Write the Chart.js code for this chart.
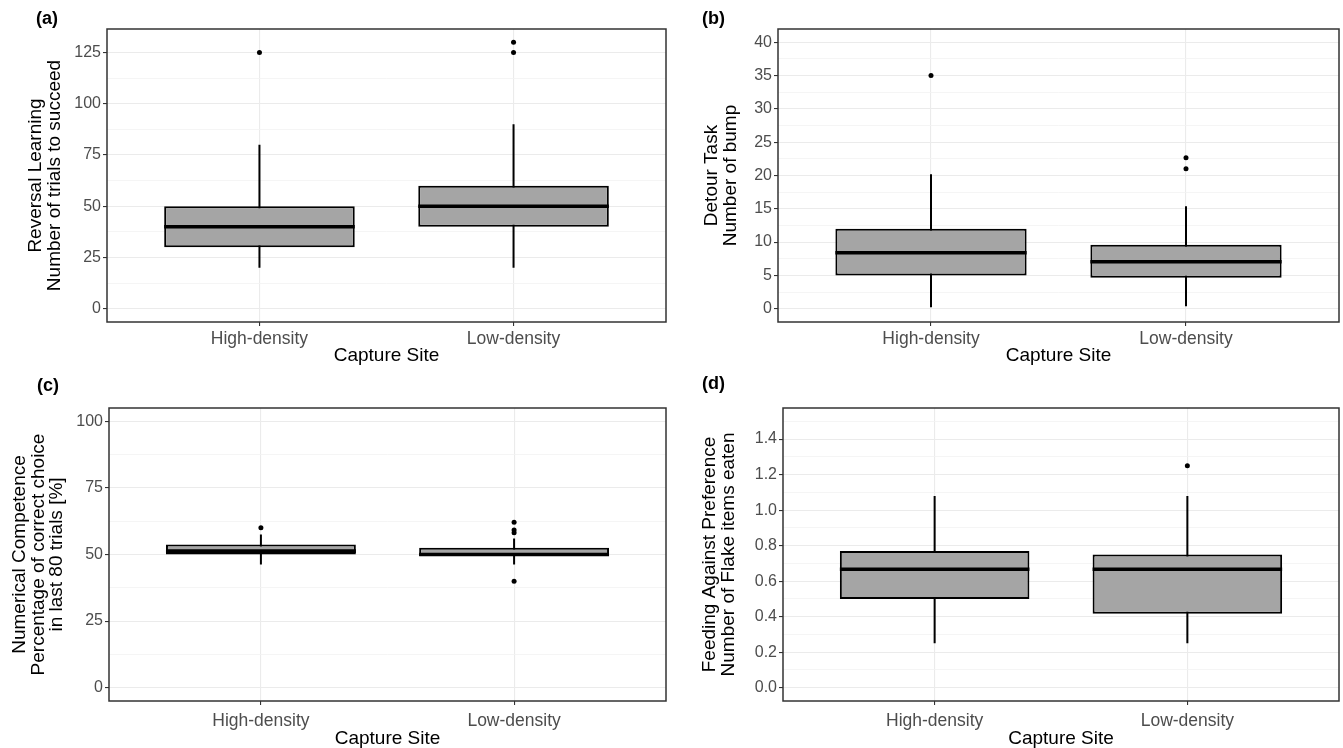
<!DOCTYPE html>
<html>
<head>
<meta charset="utf-8">
<title>Capture site box plots</title>
<script src="https://cdn.jsdelivr.net/npm/chart.js@4.4.1/dist/chart.umd.min.js"></script>
<style>
  html, body { margin: 0; padding: 0; background: #fff; }
  body { width: 1343px; height: 748px; position: relative; overflow: hidden; font-family: "Liberation Sans", Arial, sans-serif; }
  .panel { position: absolute; }
  .tag { position: absolute; font-weight: bold; font-size: 18px; color: #000; }
</style>
</head>
<body>
<div class="panel" style="left:0;top:0;width:672px;height:374px"><canvas id="chartA"></canvas></div>
<div class="panel" style="left:672px;top:0;width:671px;height:374px"><canvas id="chartB"></canvas></div>
<div class="panel" style="left:0;top:374px;width:672px;height:374px"><canvas id="chartC"></canvas></div>
<div class="panel" style="left:672px;top:374px;width:671px;height:374px"><canvas id="chartD"></canvas></div>
<div class="tag" style="left:36px;top:8px">(a)</div>
<div class="tag" style="left:702px;top:8px">(b)</div>
<div class="tag" style="left:37px;top:375px">(c)</div>
<div class="tag" style="left:702px;top:373px">(d)</div>

<script>
// categories on the x axis
const sites = ['High-density', 'Low-density'];

// box stats per site: [lower whisker, Q1, median, Q3, upper whisker]
const reversalStats = [[20, 30, 40, 50, 80], [20, 40, 50, 60, 90]];
const reversalOutliers = [[125], [125, 130]];

const detourStats = [[0.2, 5, 8.4, 12, 20.2], [0.35, 4.65, 7.05, 9.6, 15.4]];
const detourOutliers = [[35], [21, 22.65]];

const numericalStats = [[46.25, 50, 51.25, 53.75, 57.5], [46.25, 49.4, 50, 52.5, 56]];
const numericalOutliers = [[60], [40, 58.2, 59.2, 62.1]];

const feedingStats = [[0.25, 0.5, 0.667, 0.77, 1.08], [0.25, 0.417, 0.667, 0.75, 1.08]];
const feedingOutliers = [[], [1.25]];

const BOX_WIDTH = 0.75;
const FONT = '"Liberation Sans", Arial, sans-serif';

// ggplot style panel border drawn over the data
const panelBorder = {
  id: 'panelBorder',
  afterDraw(chart) {
    const a = chart.chartArea;
    const ctx = chart.ctx;
    ctx.save();
    ctx.strokeStyle = '#333333';
    ctx.lineWidth = 1.5;
    ctx.strokeRect(a.left, a.top, a.right - a.left, a.bottom - a.top);
    ctx.restore();
  }
};

function isMajor(v, step) {
  return Math.abs(v / step - Math.round(v / step)) < 1e-6;
}

function boxDatasets(stats, outliers) {
  return [
    {
      type: 'line',
      data: stats.flatMap((s, i) => [{ x: i + 1, y: s[0] }, { x: i + 1, y: s[4] }, { x: i + 1, y: null }]),
      borderColor: '#000',
      borderWidth: 2,
      pointRadius: 0,
      spanGaps: false,
      order: 3
    },
    {
      type: 'bar',
      data: stats.map((s, i) => ({ x: i + 1, y: [s[1], s[3]] })),
      backgroundColor: '#A5A5A5',
      borderColor: '#000',
      borderWidth: 2,
      borderSkipped: false,
      categoryPercentage: 1,
      barPercentage: BOX_WIDTH,
      order: 2
    },
    {
      type: 'line',
      data: stats.flatMap((s, i) => [
        { x: i + 1 - BOX_WIDTH / 2, y: s[2] },
        { x: i + 1 + BOX_WIDTH / 2, y: s[2] },
        { x: i + 1, y: null }
      ]),
      borderColor: '#000',
      borderWidth: 3.6,
      pointRadius: 0,
      spanGaps: false,
      order: 1
    },
    {
      type: 'scatter',
      data: outliers.flatMap((arr, i) => arr.map(v => ({ x: i + 1, y: v }))),
      backgroundColor: '#000',
      borderColor: '#000',
      pointRadius: 2.5,
      borderWidth: 0,
      order: 0
    }
  ];
}

function makePanel(id, cfg) {
  const ctx = document.getElementById(id).getContext('2d');
  new Chart(ctx, {
    type: 'bar',
    data: { datasets: boxDatasets(cfg.stats, cfg.outliers) },
    options: {
      responsive: true,
      maintainAspectRatio: false,
      animation: false,
      events: [],
      layout: { padding: { top: cfg.padTop, right: cfg.padRight, left: 0, bottom: 0 } },
      plugins: { legend: { display: false }, tooltip: { enabled: false } },
      scales: {
        x: {
          type: 'linear',
          min: 0.4,
          max: 2.6,
          offset: false,
          afterBuildTicks: s => { s.ticks = sites.map((_, i) => ({ value: i + 1 })); },
          afterFit: s => { s.height = cfg.xHeight; },
          ticks: {
            autoSkip: false,
            maxRotation: 0,
            padding: cfg.xTickPad,
            color: '#4D4D4D',
            font: { family: FONT, size: 17.5 },
            callback: v => sites[Math.round(v) - 1] || ''
          },
          grid: { offset: false, color: '#EBEBEB', lineWidth: 1.1, tickColor: '#333333', tickLength: 4, tickWidth: 1.1 },
          border: { display: false },
          title: {
            display: true,
            text: 'Capture Site',
            color: '#000',
            font: { family: FONT, size: 19, lineHeight: 1 },
            padding: { top: 0, bottom: cfg.xTitlePad }
          }
        },
        y: {
          type: 'linear',
          min: cfg.yMin,
          max: cfg.yMax,
          afterFit: s => { s.width = cfg.yWidth; },
          ticks: {
            stepSize: cfg.minor,
            includeBounds: false,
            autoSkip: false,
            padding: 2,
            color: '#4D4D4D',
            font: { family: FONT, size: 16 },
            callback: v => isMajor(v, cfg.major) ? v.toFixed(cfg.digits) : ''
          },
          grid: {
            color: c => isMajor(c.tick.value, cfg.major) ? '#EBEBEB' : '#F3F3F3',
            lineWidth: c => isMajor(c.tick.value, cfg.major) ? 1.1 : 0.8,
            tickColor: c => isMajor(c.tick.value, cfg.major) ? '#333333' : 'rgba(0,0,0,0)',
            tickLength: 4,
            tickWidth: 1.1
          },
          border: { display: false },
          title: {
            display: true,
            text: cfg.title,
            color: '#000',
            font: { family: FONT, size: 19, lineHeight: 0.97 },
            padding: { top: cfg.yTitlePad, bottom: 0 }
          }
        }
      }
    },
    plugins: [panelBorder]
  });
}

makePanel('chartA', {
  stats: reversalStats, outliers: reversalOutliers,
  yMin: -6.5, yMax: 136.5, minor: 12.5, major: 25, digits: 0,
  title: ['Reversal Learning', 'Number of trials to succeed'],
  padTop: 29, padRight: 6, yWidth: 107, xHeight: 52, yTitlePad: 27, xTitlePad: 9, xTickPad: 3
});

makePanel('chartB', {
  stats: detourStats, outliers: detourOutliers,
  yMin: -2, yMax: 42, minor: 2.5, major: 5, digits: 0,
  title: ['Detour Task', 'Number of bump'],
  padTop: 29, padRight: 4, yWidth: 106, xHeight: 52, yTitlePad: 31, xTitlePad: 9, xTickPad: 3
});

makePanel('chartC', {
  stats: numericalStats, outliers: numericalOutliers,
  yMin: -5, yMax: 105, minor: 12.5, major: 25, digits: 0,
  title: ['Numerical Competence', 'Percentage of correct choice', 'in last 80 trials [%]'],
  padTop: 34, padRight: 6, yWidth: 109, xHeight: 47, yTitlePad: 11, xTitlePad: 0, xTickPad: 6
});

makePanel('chartD', {
  stats: feedingStats, outliers: feedingOutliers,
  yMin: -0.075, yMax: 1.575, minor: 0.1, major: 0.2, digits: 1,
  title: ['Feeding Against Preference', 'Number of Flake items eaten'],
  padTop: 34, padRight: 4, yWidth: 111, xHeight: 47, yTitlePad: 29, xTitlePad: 0, xTickPad: 6
});
</script>
</body>
</html>
